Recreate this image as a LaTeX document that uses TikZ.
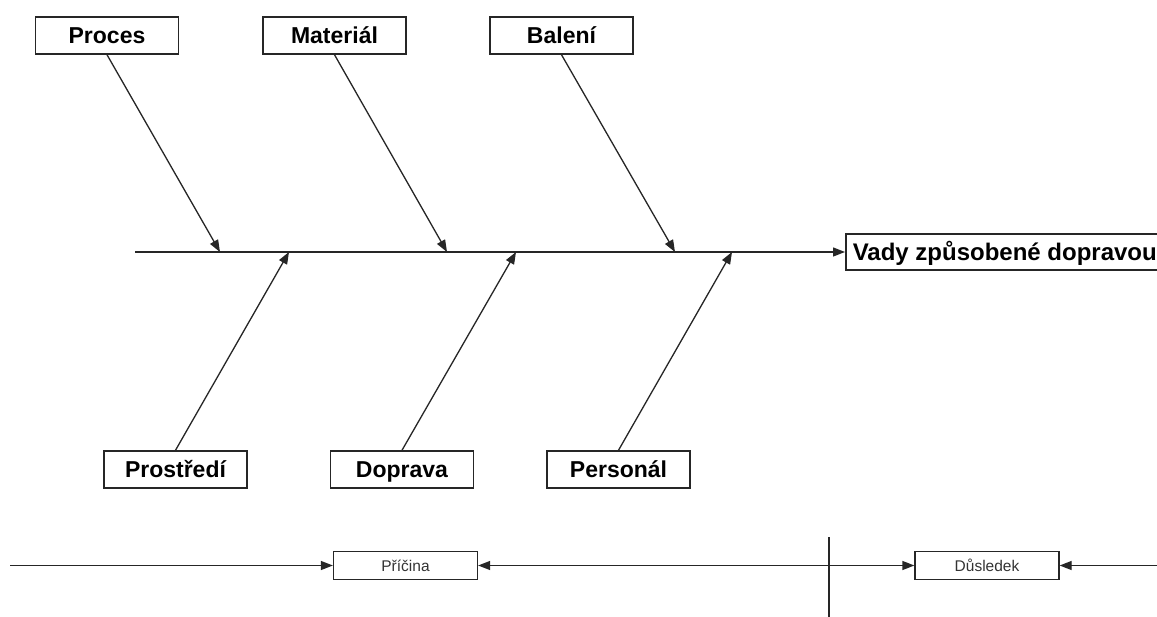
\documentclass[tikz,border=0pt]{standalone}
\usepackage{fontspec}
\setmainfont{Liberation Sans}
\usetikzlibrary{arrows.meta}
\begin{document}
\begin{tikzpicture}[x=1pt,y=-1pt,
  ink/.style={draw=black!85, line width=1.3pt},
  cause/.style={ink, line width=1.5pt, fill=white, minimum width=143pt, minimum height=37pt,
    inner sep=0pt, text height=17.5pt, text depth=1pt, font=\fontsize{23}{27}\selectfont\bfseries},
  effect/.style={ink, line width=1.5pt, fill=white, minimum height=36pt, inner xsep=7pt,
    inner ysep=0pt, anchor=west, text height=18pt, text depth=1pt,
    font=\fontsize{24}{28}\selectfont\bfseries},
  legend/.style={ink, fill=white, minimum width=144pt, minimum height=28pt,
    inner sep=0pt, text=black!80, text height=12pt, text depth=1pt,
    font=\fontsize{15.5}{18}\selectfont},
  tip/.style={-{Triangle[length=12pt,width=9pt]}},
  bothtips/.style={{Triangle[length=12pt,width=9pt]}-{Triangle[length=12pt,width=9pt]}}
]
\clip (0,0) rectangle (1157,617);
\fill[white] (0,0) rectangle (1157,617);

% cause boxes above and below the spine
\node[cause] (proc) at (107,35.5) {Proces};
\node[cause] (mat)  at (334.5,35.5) {Materiál};
\node[cause] (bal)  at (561.5,35.5) {Balení};
\node[cause] (pros) at (175.5,469.5) {Prostředí};
\node[cause] (dop)  at (402,469.5) {Doprava};
\node[cause] (pers) at (618.5,469.5) {Personál};

% effect box at the head of the spine
\node[effect] (eff) at (845,252) {Vady způsobené dopravou};

% points on the spine where the bones meet it
\coordinate (s0) at (135,252);
\coordinate (t1) at (220,252);
\coordinate (t2) at (447,252);
\coordinate (t3) at (675,252);
\coordinate (b1) at (289,252);
\coordinate (b2) at (516,252);
\coordinate (b3) at (732,252);

% spine
\draw[ink, tip] (s0) -- (eff.west);

% bones
\draw[ink, tip] (proc.south) -- (t1);
\draw[ink, tip] (mat.south)  -- (t2);
\draw[ink, tip] (bal.south)  -- (t3);
\draw[ink, tip] (pros.north) -- (b1);
\draw[ink, tip] (dop.north)  -- (b2);
\draw[ink, tip] (pers.north) -- (b3);

% legend: cause / consequence
\node[legend] (pric) at (405.5,565.5) {Příčina};
\node[legend] (dus)  at (987,565.5) {Důsledek};
\coordinate (l0) at (10,565.5);
\coordinate (r0) at (1160,565.5);
\coordinate (vtop) at (829,537);
\coordinate (vbot) at (829,620);

\draw[ink, tip] (l0) -- (pric.west);
\draw[ink, bothtips] (pric.east) -- (dus.west);
\draw[ink, tip] (r0) -- (dus.east);
\draw[ink] (vtop) -- (vbot);
\end{tikzpicture}
\end{document}
